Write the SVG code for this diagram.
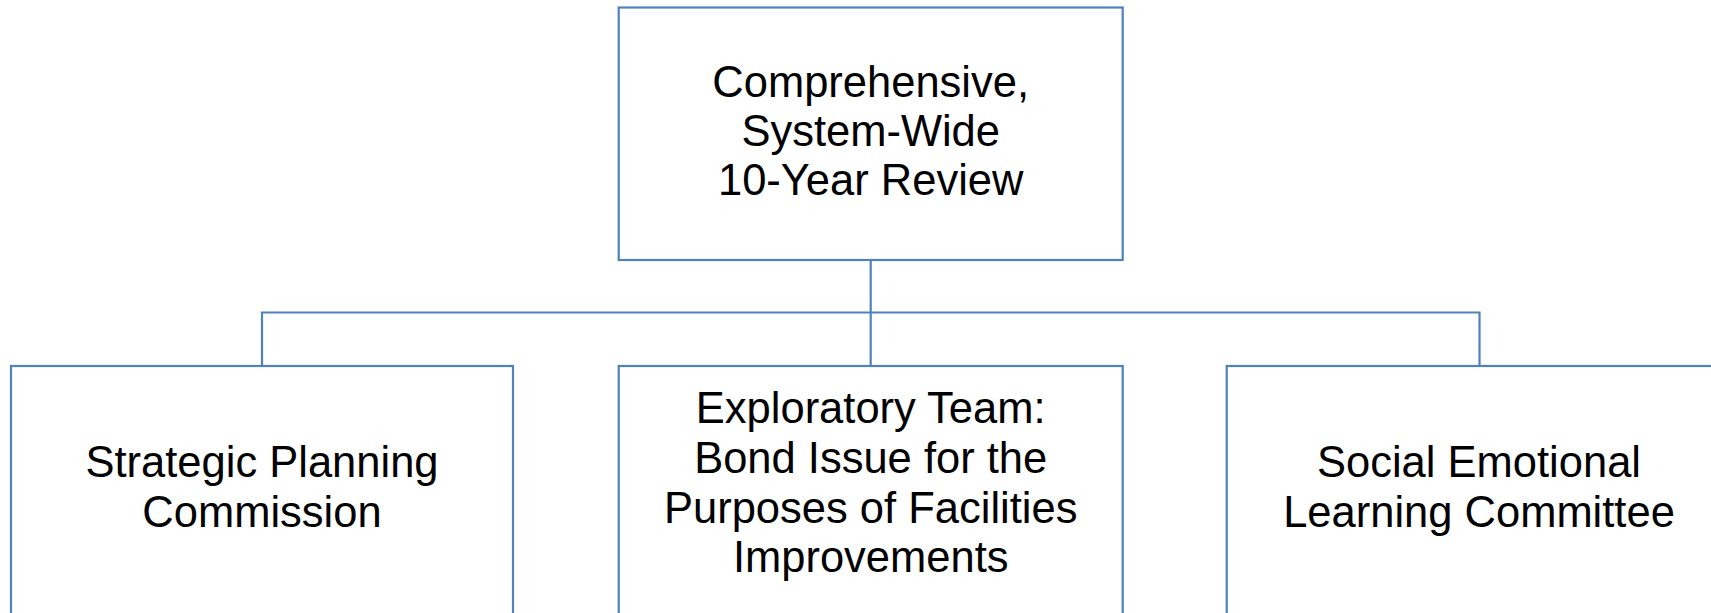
<svg xmlns="http://www.w3.org/2000/svg" width="1711" height="613" viewBox="0 0 1711 613">
<style>
.box{fill:#ffffff;stroke:#4f81bd;stroke-width:2.2}
.conn{fill:none;stroke:#4f81bd;stroke-width:2.2}
.t{font-family:"Liberation Sans",Arial,sans-serif;font-size:43.5px;fill:#000000;text-anchor:middle}
</style>
<rect width="1711" height="613" fill="#ffffff"/>
<g id="connectors">
<path class="conn" d="M870.7 260 V312.5 M262 366 V312.5 H1479.5 V366 M870.7 312.5 V366"/>
</g>
<g id="node-review">
<rect class="box" x="618.7" y="7.5" width="504" height="252.5"/>
<text class="t" x="870.7" y="97">Comprehensive,</text>
<text class="t" x="870.7" y="146">System-Wide</text>
<text class="t" x="870.7" y="195">10-Year Review</text>
</g>
<g id="node-strategic">
<rect class="box" x="11" y="366" width="502" height="260"/>
<text class="t" x="262" y="477">Strategic Planning</text>
<text class="t" x="262" y="527">Commission</text>
</g>
<g id="node-exploratory">
<rect class="box" x="618.7" y="366" width="504" height="260"/>
<text class="t" x="870.7" y="423">Exploratory Team:</text>
<text class="t" x="870.7" y="473">Bond Issue for the</text>
<text class="t" x="870.7" y="523">Purposes of Facilities</text>
<text class="t" x="870.7" y="572">Improvements</text>
</g>
<g id="node-sel">
<rect class="box" x="1226.7" y="366" width="504" height="260"/>
<text class="t" x="1479" y="477">Social Emotional</text>
<text class="t" x="1479" y="527">Learning Committee</text>
</g>
</svg>
